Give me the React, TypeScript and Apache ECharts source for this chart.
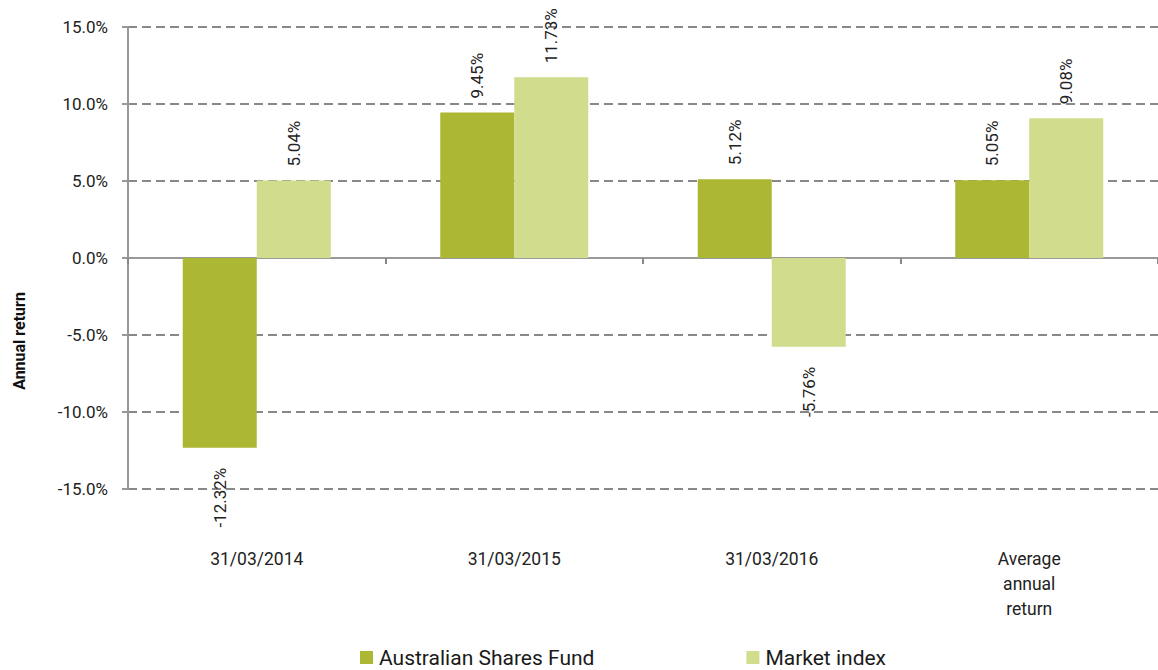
import React, { useEffect, useRef } from "react";
import * as echarts from "echarts";

const categories = ["31/03/2014", "31/03/2015", "31/03/2016", "Average annual return"];
const fundName = "Australian Shares Fund";
const indexName = "Market index";
const fundValues = [-12.32, 9.45, 5.12, 5.05];
const indexValues = [5.04, 11.73, -5.76, 9.08];
const yMin = -15;
const yMax = 15;
const yInterval = 5;

const DARK = "#ACB734";
const LIGHT = "#D1DC8C";
const FONT = "Roboto, 'Noto Sans', sans-serif";

function toData(values: number[]) {
  return values.map((v) => ({
    value: v,
    label:
      v >= 0
        ? { position: "top", align: "left", distance: 14 }
        : { position: "bottom", align: "right", distance: 20 },
  }));
}

export default function App() {
  const ref = useRef<HTMLDivElement>(null);
  useEffect(() => {
    if (!ref.current) return;
    const chart = echarts.init(ref.current, undefined, { renderer: "svg" });
    const labelCommon = {
      show: true,
      rotate: 90,
      verticalAlign: "middle",
      color: "#222",
      fontSize: 17,
      fontFamily: FONT,
      formatter: (p: any) => p.value.toFixed(2) + "%",
    };
    chart.setOption({
      animation: false,
      textStyle: { fontFamily: FONT },
      grid: { left: 128, right: -8, top: 27, bottom: 181, containLabel: false },
      legend: {
        left: 360,
        top: 646,
        padding: 0,
        itemWidth: 13,
        itemHeight: 13,
        itemGap: 152,
        icon: "rect",
        textStyle: { fontSize: 21, color: "#1a1a1a", fontFamily: FONT, lineHeight: 23, padding: [0, 0, 0, 1] },
        data: [fundName, indexName],
      },
      xAxis: [
        {
          type: "category",
          data: categories,
          position: "bottom",
          axisLine: { onZero: true, lineStyle: { color: "#999", width: 2 } },
          axisTick: { show: true, length: 6, lineStyle: { color: "#888", width: 2 } },
          axisLabel: { show: false },
          splitLine: { show: false },
        },
        {
          type: "category",
          data: categories,
          position: "bottom",
          axisLine: { show: false, onZero: false },
          axisTick: { show: false },
          axisLabel: {
            show: true,
            margin: 57,
            fontSize: 17.5,
            lineHeight: 25,
            color: "#222",
            fontFamily: FONT,
            formatter: (v: string) => v.replace(/ /g, "\n"),
          },
          splitLine: { show: false },
        },
      ],
      yAxis: {
        type: "value",
        min: yMin,
        max: yMax,
        interval: yInterval,
        axisLine: { show: true, lineStyle: { color: "#999", width: 2 } },
        axisTick: { show: true, length: 6, lineStyle: { color: "#999", width: 2 } },
        axisLabel: {
          margin: 20,
          fontSize: 17,
          color: "#222",
          fontFamily: FONT,
          formatter: (v: number) => v.toFixed(1) + "%",
        },
        splitLine: { show: true, lineStyle: { color: "#888", width: 2, type: [9, 5] } },
      },
      graphic: [
        {
          type: "text",
          x: 19,
          y: 341,
          rotation: Math.PI / 2,
          style: {
            text: "Annual return",
            fill: "#111",
            font: `bold 16px ${FONT}`,
            align: "center",
            verticalAlign: "middle",
          },
        },
      ],
      series: [
        {
          name: fundName,
          type: "bar",
          xAxisIndex: 0,
          data: toData(fundValues),
          barWidth: 74,
          barGap: "0%",
          itemStyle: { color: DARK },
          label: labelCommon,
        },
        {
          name: indexName,
          type: "bar",
          xAxisIndex: 0,
          data: toData(indexValues),
          barWidth: 74,
          barGap: "0%",
          itemStyle: { color: LIGHT },
          label: labelCommon,
        },
      ],
    });
    return () => chart.dispose();
  }, []);
  return (
    <div
      ref={ref}
      style={{ position: "fixed", left: 0, top: 0, width: 1158, height: 670, background: "#fff" }}
    />
  );
}
